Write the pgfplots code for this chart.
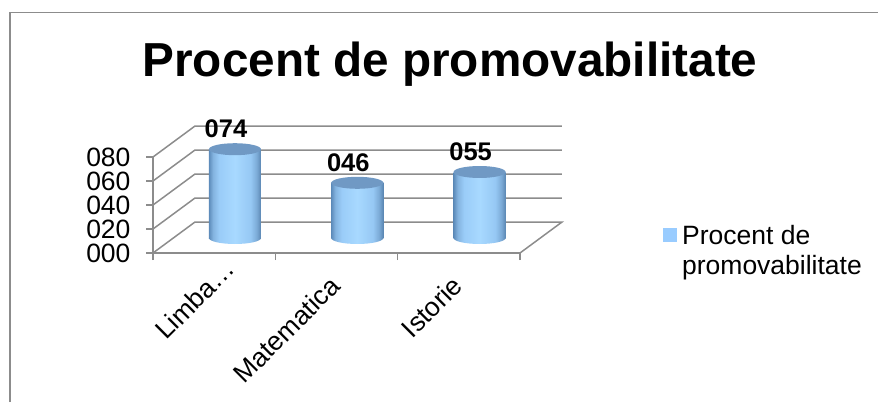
\documentclass[border=0pt]{standalone}
\usepackage{pgfplots}
\pgfplotsset{compat=1.18}
\usepackage{fontspec}
\setmainfont{Liberation Sans}
\definecolor{gridc}{HTML}{8C8C8C}
\definecolor{bartop}{HTML}{7099C4}
\definecolor{legc}{HTML}{99CCFF}
\definecolor{cA}{RGB}{94,140,187}
\definecolor{cB}{RGB}{132,180,224}
\definecolor{cC}{RGB}{154,204,248}
\definecolor{cD}{RGB}{168,217,255}
\definecolor{cE}{RGB}{150,200,244}
\definecolor{cF}{RGB}{123,170,214}
\definecolor{cG}{RGB}{90,134,178}
\pgfdeclarehorizontalshading{cyl}{100bp}{color(0bp)=(cA); color(25bp)=(cA); color(29bp)=(cB); color(35bp)=(cC); color(50bp)=(cD); color(65bp)=(cE); color(71bp)=(cF); color(75bp)=(cG); color(100bp)=(cG)}
\pgfdeclareplotmark{toplid}{\path[fill=bartop,draw=none,rotate=7] (0,0) ellipse [x radius=26pt,y radius=6pt];}
\pgfdeclareplotmark{botlid}{\path[shading=cyl,draw=none,rotate=7] (0,0) ellipse [x radius=26pt,y radius=6pt];}
\begin{document}
\begin{tikzpicture}[x=1pt,y=1pt]
\useasboundingbox (0,0) rectangle (878,402);
\draw[gridc,line width=1.4pt] (10,0) -- (10,389.5) -- (878,389.5);
\node[font=\fontsize{47.7}{48}\selectfont\bfseries,anchor=center] at (450,338) {Procent de promovabilitate};
% wall and floor, front axes
\begin{axis}[
  at={(153pt,149pt)},anchor=origin,
  scale only axis,width=367pt,height=96pt,
  xmin=0,xmax=3,ymin=0,ymax=80,
  clip=false,
  axis x line*=bottom,axis y line*=left,
  axis line style={gridc,line width=1.5pt,-},
  xtick={0.5,1.5,2.5},
  xticklabels={Limba…\kern-24pt,Matematica,Istorie},
  minor xtick={0,1,2,3},
  ytick={0,20,40,60,80},
  yticklabels={000,020,040,060,080},
  tick style={gridc,line width=1.5pt},
  major x tick style={draw=none},
  ytick align=outside,xtick align=outside,
  major tick length=7pt,minor tick length=7pt,
  tick label style={font=\fontsize{26.5}{27}\selectfont,text=black},
  yticklabel style={xshift=-12pt},
  xticklabel style={rotate=45,anchor=north east,inner sep=0pt,xshift=-16pt,yshift=-4pt},
]
\addplot[gridc,line width=1.5pt] coordinates {(0,0) (0.343,25.8) (3.343,25.8) (3,0)};
\addplot[gridc,line width=1.5pt] coordinates {(0,20) (0.343,45.8) (3.343,45.8)};
\addplot[gridc,line width=1.5pt] coordinates {(0,40) (0.343,65.8) (3.343,65.8)};
\addplot[gridc,line width=1.5pt] coordinates {(0,60) (0.343,85.8) (3.343,85.8)};
\addplot[gridc,line width=1.5pt] coordinates {(0,80) (0.343,105.8) (3.343,105.8)};
\end{axis}
% cylinders
\begin{axis}[
  at={(153pt,164pt)},anchor=origin,
  scale only axis,width=367pt,height=96pt,
  xmin=0,xmax=3,ymin=0,ymax=80,
  clip=false,hide axis,
  legend style={at={(1.39,0.15)},anchor=north west,draw=none,fill=none,
    font=\fontsize{26.5}{30}\selectfont,cells={align=left,anchor=west},
    inner sep=0pt,outer sep=0pt},
  legend image code/.code={\path[draw=none] (0pt,0pt) rectangle (17pt,1pt);\fill[legc,draw=none] (0pt,9pt) rectangle (14pt,23pt);},
]
\addplot[forget plot,only marks,mark=botlid] coordinates {(0.67,0) (1.67,0) (2.67,0)};
\addplot[forget plot,ybar,bar shift=0pt,bar width=52pt,draw=none,shading=cyl] coordinates {(0.67,74)};
\addplot[forget plot,ybar,bar shift=0pt,bar width=52pt,draw=none,shading=cyl] coordinates {(1.67,46)};
\addplot[forget plot,ybar,bar shift=0pt,bar width=52pt,draw=none,shading=cyl] coordinates {(2.67,55)};
\addlegendimage{}
\addlegendentry{Procent de\\promovabilitate}
\addplot[forget plot,only marks,mark=toplid,
  point meta=explicit symbolic,
  nodes near coords,
  nodes near coords style={font=\fontsize{25.5}{26}\selectfont\bfseries,text=black,anchor=center,xshift=-9pt,yshift=20pt}]
  coordinates {(0.67,74)[074] (1.67,46)[046] (2.67,55)[055]};
\end{axis}
\end{tikzpicture}
\end{document}
